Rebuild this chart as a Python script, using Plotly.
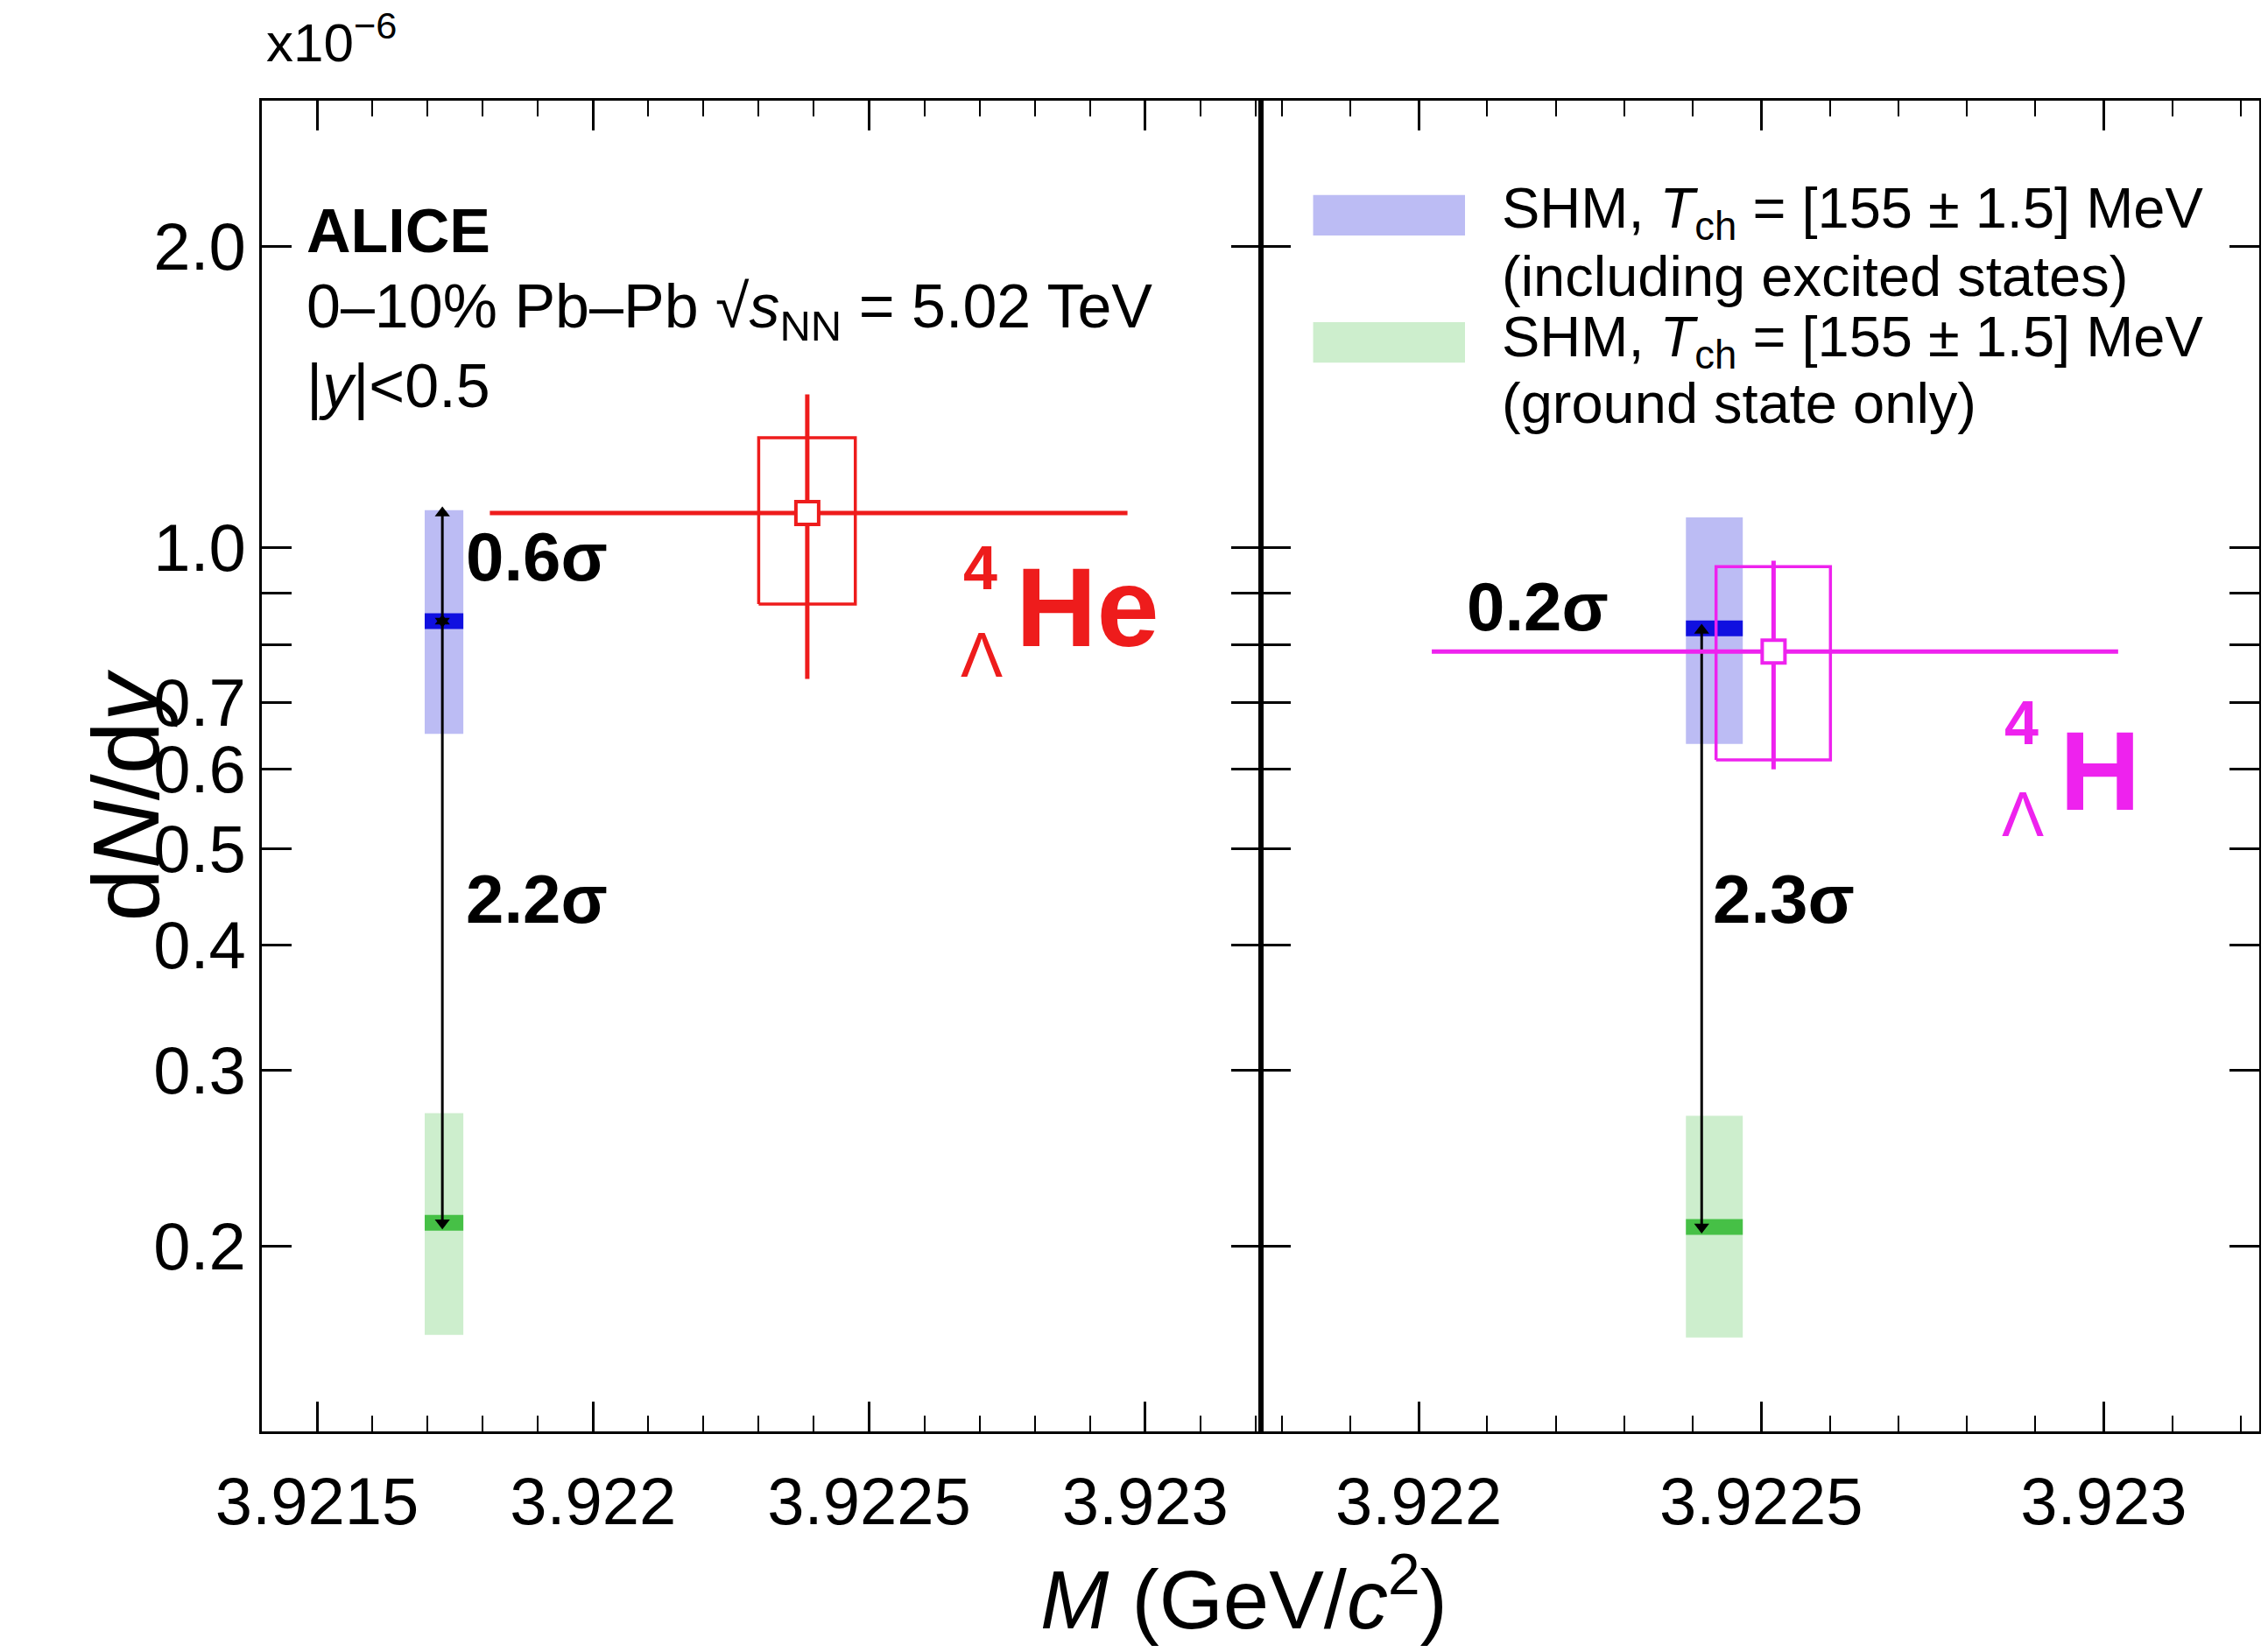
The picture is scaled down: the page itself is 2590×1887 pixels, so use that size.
import plotly.graph_objects as go
from plotly.subplots import make_subplots
import math

# hypernuclei yields (x10^-6)
he_mass = [3.922388]
he_yield = [1.083]
he_mass_lo, he_mass_hi = [3.921813], [3.922968]
he_stat_lo, he_stat_hi = [0.739], [1.423]
he_sys_x = [3.922300, 3.922475]
he_sys_y = [0.878, 1.288]

h_mass = [3.922518]
h_yield = [0.787]
h_mass_lo, h_mass_hi = [3.922019], [3.923021]
h_stat_lo, h_stat_hi = [0.600], [0.970]
h_sys_x = [3.922434, 3.922601]
h_sys_y = [0.613, 0.957]

# SHM predictions: [x_lo, x_hi], [y_lo, central, y_hi]
shm_left_x = [3.921695, 3.921765]
shm_left_exc = [0.651, 0.844, 1.09]
shm_left_gnd = [0.163, 0.211, 0.2717]
shm_right_x = [3.922390, 3.922473]
shm_right_exc = [0.636, 0.830, 1.072]
shm_right_gnd = [0.162, 0.209, 0.270]
arrow_left_x = 3.921727
arrow_right_x = 3.922413

ytick_vals = [0.2, 0.3, 0.4, 0.5, 0.6, 0.7, 0.8, 0.9, 1.0, 2.0]
ytick_text = ["0.2", "0.3", "0.4", "0.5", "0.6", "0.7", "", "", "1.0", "2.0"]

BLUE_BAND = "#bcbcf4"
BLUE = "#1010e0"
GREEN_BAND = "#cdeecd"
GREEN = "#46c046"
RED = "#ee1c1c"
MAG = "#ee22ee"
FONT = "Liberation Sans"

fig = make_subplots(rows=1, cols=2, shared_yaxes=True, horizontal_spacing=0)


def rect(x, ylo, yhi, color, col, fill=True, width=2):
    fig.add_trace(go.Scatter(
        x=[x[0], x[1], x[1], x[0], x[0]], y=[ylo, ylo, yhi, yhi, ylo],
        mode="lines", fill="toself" if fill else None,
        fillcolor=color if fill else None,
        line=dict(color=color, width=0 if fill else width),
        showlegend=False, hoverinfo="skip"), row=1, col=col)


def center(x, y, color, col):
    fig.add_trace(go.Scatter(x=x, y=[y, y], mode="lines",
                             line=dict(color=color, width=18),
                             showlegend=False, hoverinfo="skip"), row=1, col=col)


def arrow(x, y0, y1, col):
    fig.add_trace(go.Scatter(x=[x, x], y=[y0, y1], mode="lines+markers",
                             line=dict(color="black", width=3),
                             marker=dict(symbol=["triangle-down", "triangle-up"], size=15, color="black"),
                             showlegend=False, hoverinfo="skip"), row=1, col=col)


def point(m, yv, mlo, mhi, slo, shi, sx, sy, color, col):
    rect(sx, sy[0], sy[1], color, col, fill=False, width=3.5)
    fig.add_trace(go.Scatter(
        x=m, y=yv, mode="markers",
        marker=dict(symbol="square", size=26, color="white", line=dict(width=4, color=color)),
        error_x=dict(type="data", symmetric=False,
                     array=[mhi[0] - m[0]], arrayminus=[m[0] - mlo[0]],
                     color=color, thickness=5, width=0),
        error_y=dict(type="data", symmetric=False,
                     array=[shi[0] - yv[0]], arrayminus=[yv[0] - slo[0]],
                     color=color, thickness=5, width=0),
        showlegend=False, hoverinfo="skip"), row=1, col=col)


for col, sx, exc, gnd in [(1, shm_left_x, shm_left_exc, shm_left_gnd),
                          (2, shm_right_x, shm_right_exc, shm_right_gnd)]:
    rect(sx, exc[0], exc[2], BLUE_BAND, col)
    rect(sx, gnd[0], gnd[2], GREEN_BAND, col)
    center(sx, exc[1], BLUE, col)
    center(sx, gnd[1], GREEN, col)

arrow(arrow_left_x, shm_left_gnd[1], shm_left_exc[1], 1)
arrow(arrow_right_x, shm_right_gnd[1], h_yield[0] * 1.05, 2)
arrow(arrow_left_x, shm_left_exc[1], he_yield[0], 1)

point(he_mass, he_yield, he_mass_lo, he_mass_hi, he_stat_lo, he_stat_hi, he_sys_x, he_sys_y, RED, 1)
point(h_mass, h_yield, h_mass_lo, h_mass_hi, h_stat_lo, h_stat_hi, h_sys_x, h_sys_y, MAG, 2)

axis_common = dict(showline=True, linecolor="black", linewidth=3, mirror="ticks",
                   ticks="inside", ticklen=34, tickwidth=2.5, tickcolor="black",
                   showgrid=False, zeroline=False,
                   tickfont=dict(family=FONT, size=76, color="black"))
minor = dict(ticks="inside", ticklen=18, tickwidth=2, tickcolor="black", dtick=0.0001, showgrid=False)

fig.update_xaxes(axis_common, row=1, col=1)
fig.update_xaxes(axis_common, row=1, col=2)
fig.update_xaxes(range=[3.92140, 3.923209], tickvals=[3.9215, 3.922, 3.9225, 3.923],
                 ticktext=["3.9215", "3.922", "3.9225", "3.923"], minor=minor,
                 ticklabelstandoff=12, row=1, col=1)
fig.update_xaxes(range=[3.921769, 3.923227], tickvals=[3.922, 3.9225, 3.923],
                 ticktext=["3.922", "3.9225", "3.923"], minor=minor,
                 ticklabelstandoff=12, row=1, col=2)
fig.update_yaxes(axis_common)
fig.update_yaxes(type="log", range=[math.log10(0.1305), math.log10(2.8)],
                 tickvals=ytick_vals, ticktext=ytick_text)
fig.update_yaxes(showticklabels=False, row=1, col=2)

W, H = 2590, 1887
L, R, T, B = 291, 18, 107, 260
S = 2590 / 1568.0


def px(dx):
    return (dx * S - L) / (W - L - R)


def py(dy):
    return 1 - (dy * S - T) / (H - T - B)


def txt(dx, dy, text, size=55, color="black", xanchor="left", bold=False):
    if bold:
        text = "<b>" + text + "</b>"
    fig.add_annotation(x=px(dx), y=py(dy), xref="paper", yref="paper", text=text,
                       showarrow=False, xanchor=xanchor, yanchor="middle",
                       font=dict(family=FONT, size=size, color=color))


txt(178, 22, "x10<sup>−6</sup>", size=62)
txt(206, 155, "ALICE", size=70, bold=True)
txt(206, 210, "0–10% Pb–Pb √<i>s</i><sub>NN</sub> = 5.02 TeV", size=70)
txt(206, 262, "|<i>y</i>|<0.5", size=70)
txt(316, 380, "0.6σ", size=78, bold=True)
txt(316, 617, "2.2σ", size=78, bold=True)
txt(1008, 415, "0.2σ", size=78, bold=True)
txt(1178, 617, "2.3σ", size=78, bold=True)
txt(660, 388, "4", size=70, color=RED, bold=True)
txt(658, 448, "Λ", size=72, color=RED)
txt(696, 415, "He", size=128, color=RED, bold=True)
txt(1380, 495, "4", size=70, color=MAG, bold=True)
txt(1378, 558, "Λ", size=72, color=MAG)
txt(1418, 528, "H", size=128, color=MAG, bold=True)
txt(1032, 142, "SHM, <i>T</i><sub>ch</sub> = [155 ± 1.5] MeV", size=65)
txt(1032, 186, "(including excited states)", size=65)
txt(1032, 231, "SHM, <i>T</i><sub>ch</sub> = [155 ± 1.5] MeV", size=65)
txt(1032, 274, "(ground state only)", size=65)
txt(855, 1097, "<i>M</i> (GeV/<i>c</i><sup>2</sup>)", size=94, xanchor="center")

for y0, y1, c in [(130, 158, BLUE_BAND), (218, 246, GREEN_BAND)]:
    fig.add_shape(type="rect", xref="paper", yref="paper", x0=px(903), x1=px(1008),
                  y0=py(y1), y1=py(y0), fillcolor=c, line=dict(width=0))

fig.add_annotation(x=px(44), y=py(545), xref="paper", yref="paper",
                   text="d<i>N</i>/d<i>y</i>", textangle=-90, showarrow=False,
                   font=dict(family=FONT, size=108, color="black"))

fig.update_layout(width=W, height=H, plot_bgcolor="white", paper_bgcolor="white",
                  margin=dict(l=L, r=R, t=T, b=B), showlegend=False)
fig.write_html("out.html")
